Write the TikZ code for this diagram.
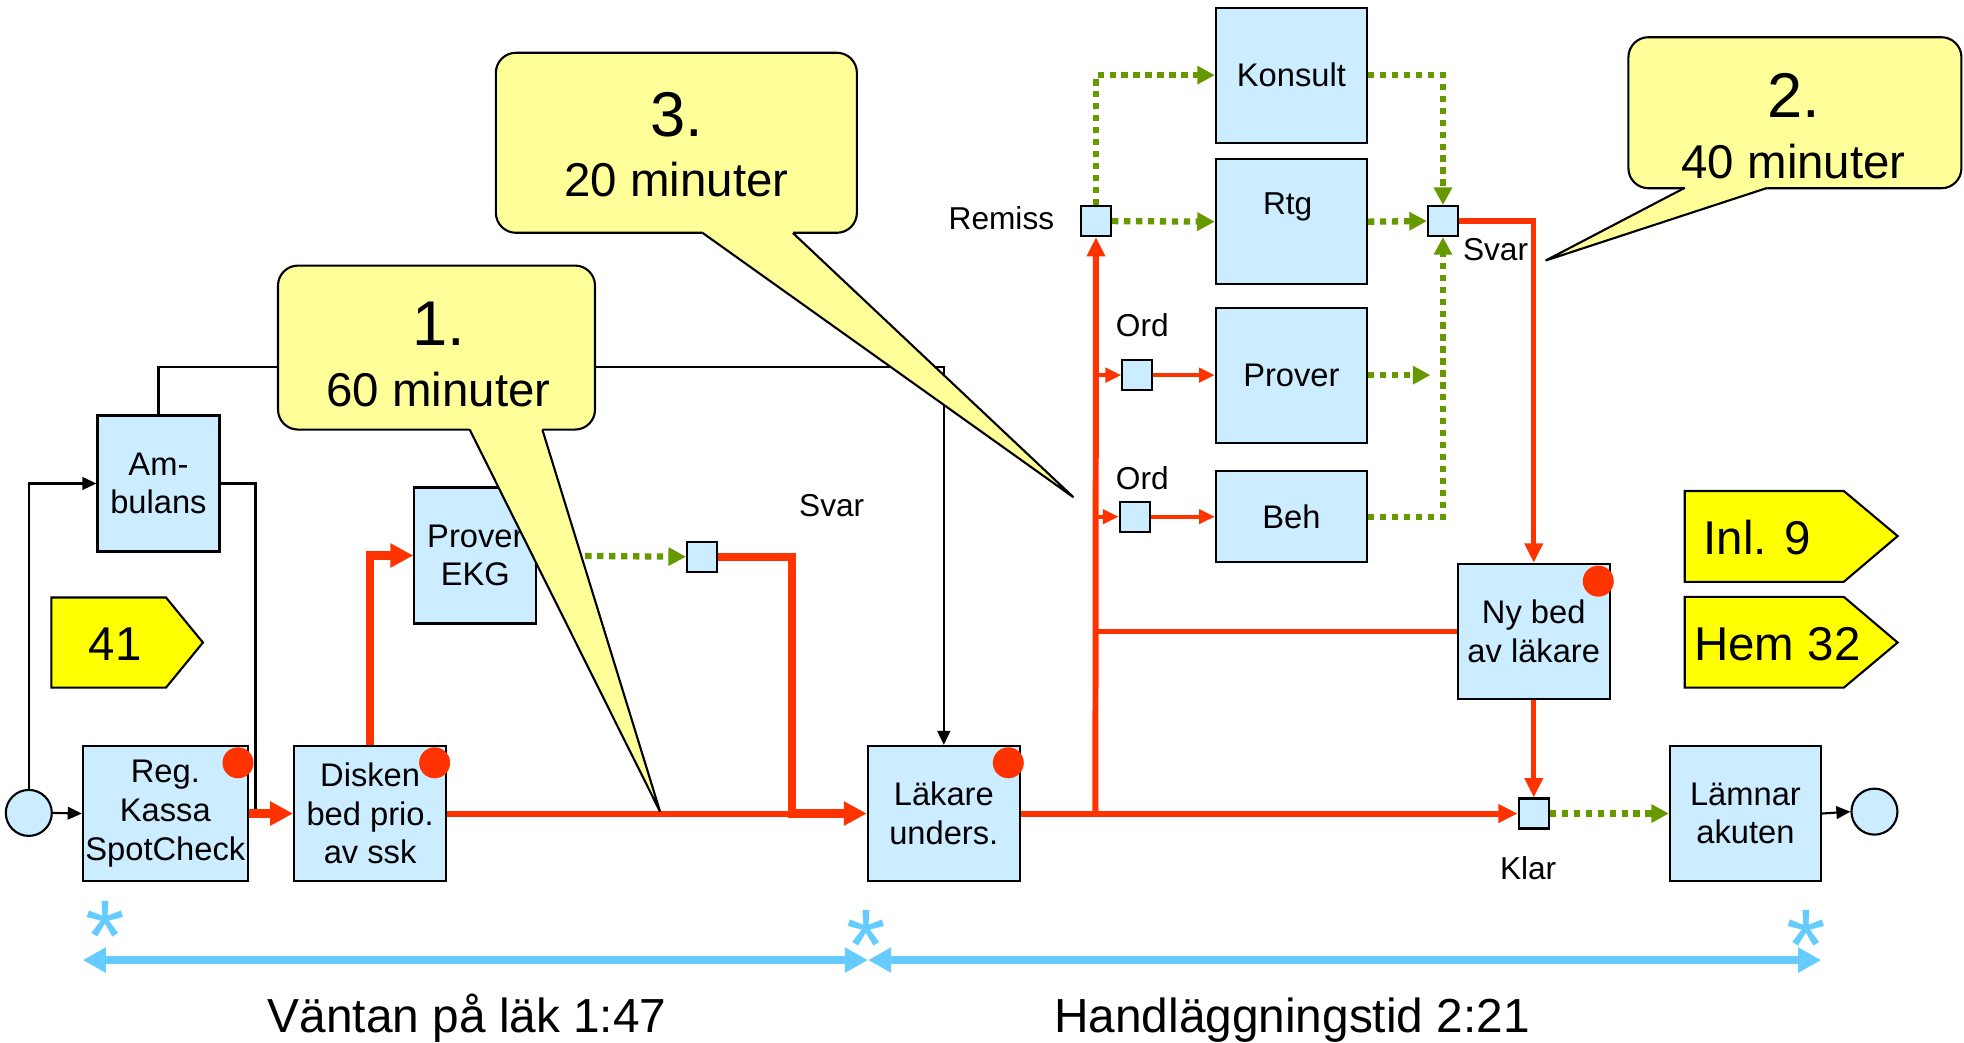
\documentclass[tikz,border=0pt]{standalone}
\usepackage{fontspec}
\setmainfont{Liberation Sans}
\usepackage{xcolor}
\usepackage{tikz}
\usetikzlibrary{arrows.meta}
\definecolor{boxblue}{RGB}{204, 236, 255}
\definecolor{flowred}{RGB}{255, 51, 0}
\definecolor{dotgreen}{RGB}{102, 153, 0}
\definecolor{notepale}{RGB}{255, 255, 153}
\definecolor{tagyellow}{RGB}{255, 255, 0}
\definecolor{spanblue}{RGB}{102, 204, 255}

\begin{document}
\begin{tikzpicture}[x=0.12526mm, y=-0.12526mm,
    flowbox/.style 2 args={rectangle, draw=black, line width=0.6pt, fill=boxblue, minimum width=#1, minimum height=#2, inner sep=0pt, align=center, font=\fontsize{9.3}{11}\selectfont},
    smallsq/.style={rectangle, draw=black, line width=0.6pt, fill=boxblue, minimum size=3mm, inner sep=0pt},
    endpt/.style={circle, draw=black, line width=0.6pt, fill=boxblue, minimum size=4.6mm, inner sep=0pt},
    reddot/.style={circle, fill=flowred, minimum size=3.1mm, inner sep=0pt},
    lbl/.style={inner sep=0pt, font=\fontsize{9}{11}\selectfont},
    callbox/.style 2 args={rectangle, rounded corners=2mm, draw=black, line width=0.6pt, fill=notepale, minimum width=#1, minimum height=#2},
    callnum/.style={inner sep=0pt, anchor=base, font=\fontsize{18}{20}\selectfont},
    calltxt/.style={inner sep=0pt, anchor=base, font=\fontsize{13.5}{16}\selectfont},
    tagshape/.style={draw=black, line width=0.6pt, fill=tagyellow},
    tagtxt/.style={inner sep=0pt, anchor=base, font=\fontsize{13.5}{16}\selectfont},
    spanstar/.style={inner sep=0pt, anchor=base, text=spanblue, font=\fontsize{29}{29}\selectfont},
    spanarrow/.style={spanblue, line width=2.1pt, {Triangle[length=6.6pt,width=6.8pt]}-{Triangle[length=6.6pt,width=6.8pt]}},
    spantxt/.style={inner sep=0pt, anchor=base, font=\fontsize{13.6}{16}\selectfont},
    blk/.style={line width=0.6pt, -{Triangle[length=4pt,width=3.6pt]}},
    redthick/.style={flowred, line width=2.3pt, -{Triangle[length=6.5pt,width=6.5pt]}},
    redmid/.style={flowred, line width=1.7pt, -{Triangle[length=5.5pt,width=5pt]}},
    redthin/.style={flowred, line width=1.1pt, -{Triangle[length=4.5pt,width=4pt]}},
    grn/.style={dotgreen, line width=1.8pt, dash pattern=on 1.8pt off 1.6pt, -{Triangle[length=5pt,width=5pt]}}
]
\useasboundingbox (0,0) rectangle (1568,832);

% Waiting part (left)
\node[endpt]                      at (23,649)     (start)   {};
\node[flowbox={16.5mm}{13.5mm}]   at (132,649.5)  (reg)     {Reg.\\Kassa\\SpotCheck};
\node[flowbox={15.2mm}{13.5mm}]   at (295.5,649.5)(disken)  {Disken\\bed prio.\\av ssk};
\node[flowbox={12.2mm}{13.6mm}]   at (126.5,386)  (amb)     {Am-\\bulans};
\node[flowbox={12.2mm}{13.6mm}]   at (379.5,443.5)(provekg) {Prover\\EKG};
\node[smallsq]                    at (560.5,444.5)(sqa)     {};
\node[lbl]                        at (664,404)    (svara)   {Svar};
\node[flowbox={15.2mm}{13.5mm}]   at (753.5,649.5)(lakare)  {Läkare\\unders.};

% Treatment part (right)
\node[flowbox={15.1mm}{13.5mm}]   at (1031,60)    (konsult) {Konsult};
\node[flowbox={15.1mm}{12.5mm}]   at (1031,177)   (rtg)     {};
\node[lbl, anchor=base]           at (1028,171)   (rtglbl)  {Rtg};
\node[flowbox={15.1mm}{13.5mm}]   at (1031,299.5) (prover)  {Prover};
\node[flowbox={15.1mm}{9.1mm}]    at (1031,412.5) (beh)     {Beh};
\node[smallsq]                    at (875,176.5)  (remiss)  {};
\node[lbl]                        at (799.5,174)  (remisslbl) {Remiss};
\node[smallsq]                    at (1152,176.5) (svarb)   {};
\node[lbl]                        at (1194,199)   (svarblbl){Svar};
\node[smallsq]                    at (908,299.5)  (ord1)    {};
\node[lbl]                        at (912,260)    (ord1lbl) {Ord};
\node[smallsq]                    at (906,412.5)  (ord2)    {};
\node[lbl]                        at (912,382)    (ord2lbl) {Ord};
\node[flowbox={15.2mm}{13.5mm}]   at (1224.5,504) (nybed)   {Ny bed\\av läkare};
\node[smallsq]                    at (1224.5,649.5)(klar)   {};
\node[lbl]                        at (1220,693.5) (klarlbl) {Klar};
\node[flowbox={15.1mm}{13.5mm}]   at (1393.5,649.5)(lamnar) {Lämnar\\akuten};
\node[endpt]                      at (1496.5,648) (stop)    {};

% red dots
\node[reddot] at (190,609)  (dotreg)   {};
\node[reddot] at (347,609)  (dotdisk)  {};
\node[reddot] at (805,609)  (dotlak)   {};
\node[reddot] at (1276,464) (dotny)    {};

\coordinate (ambdown) at (204,649.5);
\coordinate (topc)    at (753.5,293);
\coordinate (merge)   at (632,649.5);
\coordinate (split)   at (874.5,649.5);
\coordinate (ordsp1)  at (874.5,299.5);
\coordinate (ordsp2)  at (874.5,412.5);
\coordinate (nyjoin)  at (874.5,504);
\coordinate (provend) at (1142,299.5);

% black lines
\draw[blk] (start.east) -- (reg.west);
\draw[blk] (start.north) |- (amb.west);
\draw[line width=0.6pt] (amb.east) -| (ambdown);
\draw[blk] (amb.north) |- (topc) -- (lakare.north);
\draw[blk] (lamnar.east) -- (stop.west);

% red flow
\draw[redthick] (reg.east) -- (disken.west);
\draw[redthick] (disken.north) |- (provekg.west);
\draw[redmid, -] (disken.east) -- (merge);
\draw[redthick] (sqa.east) -| (merge) -- (lakare.west);
\draw[redmid] (lakare.east) -- (klar.west);
\draw[redmid] (split) -- (remiss.south);
\draw[redthin] (ordsp1) -- (ord1.west);
\draw[redthin] (ord1.east) -- (prover.west);
\draw[redthin] (ordsp2) -- (ord2.west);
\draw[redthin] (ord2.east) -- (beh.west);
\draw[redmid, line width=1.5pt, -] (nybed.west) -- (nyjoin);
\draw[redmid, line width=1.5pt] (svarb.east) -| (nybed.north);
\draw[redmid, line width=1.5pt] (nybed.south) -- (klar.north);

% green dotted
\draw[grn] (provekg.east) -- (sqa.west);
\draw[grn] (remiss.north) |- (konsult.west);
\draw[grn] (remiss.east) -- (rtg.west);
\draw[grn] (konsult.east) -| (svarb.north);
\draw[grn] (rtg.east) -- (svarb.west);
\draw[grn] (prover.east) -- (provend);
\draw[grn] (beh.east) -| (svarb.south);
\draw[grn] (klar.east) -- (lamnar.west);

% tags
\draw[tagshape] (41,477) -- (132.5,477) -- (162,513) -- (132.5,549) -- (41,549) -- cycle;
\node[tagtxt] at (92,527) (tag41) {41};
\draw[tagshape] (1345,392) -- (1472,392) -- (1515,428) -- (1472,464.5) -- (1345,464.5) -- cycle;
\node[tagtxt] at (1403,443) (taginl) {Inl. 9};
\draw[tagshape] (1345,476.5) -- (1472,476.5) -- (1515,513) -- (1472,549) -- (1345,549) -- cycle;
\node[tagtxt] at (1419,527) (taghem) {Hem 32};

% callouts
\node[callbox={31.7mm}{16.4mm}] at (348.5,277.5) (c1) {};
\fill[notepale] (375,344.2) -- (527,648) -- (433,344.2) -- (433,339) -- (375,339) -- cycle;
\draw[line width=0.6pt] (375,343) -- (527,648) -- (433,343);
\node[callnum] at (350,276)   (c1num) {1.};
\node[calltxt] at (350,324.5) (c1txt) {60 minuter};

\node[callbox={36.1mm}{18mm}] at (540,114) (c3) {};
\fill[notepale] (561,187.2) -- (857,397) -- (633,187.2) -- (633,182) -- (561,182) -- cycle;
\draw[line width=0.6pt] (561,186) -- (857,397) -- (633,186);
\node[callnum] at (540,109)   (c3num) {3.};
\node[calltxt] at (540,157)   (c3txt) {20 minuter};

\node[callbox={33.3mm}{15.1mm}] at (1433,90) (c2) {};
\fill[notepale] (1345,151.2) -- (1234,208) -- (1411,151.2) -- (1411,146) -- (1345,146) -- cycle;
\draw[line width=0.6pt] (1345,150) -- (1234,208) -- (1411,150);
\node[callnum] at (1432,94)    (c2num) {2.};
\node[calltxt] at (1432,142.5) (c2txt) {40 minuter};

% time spans
\coordinate (spl) at (66,766.5);
\coordinate (spm) at (693,766.5);
\coordinate (spr) at (1454,766.5);
\draw[spanarrow] (spl) -- (spm);
\draw[spanarrow] (spm) -- (spr);
\node[spanstar] at (84,776)   (star1) {*};
\node[spanstar] at (692,783)  (star2) {*};
\node[spanstar] at (1442,783) (star3) {*};
\node[spantxt] at (373,824)    (wait)  {Väntan på läk 1:47};
\node[spantxt] at (1031.5,824) (treat) {Handläggningstid 2:21};
\end{tikzpicture}
\end{document}
